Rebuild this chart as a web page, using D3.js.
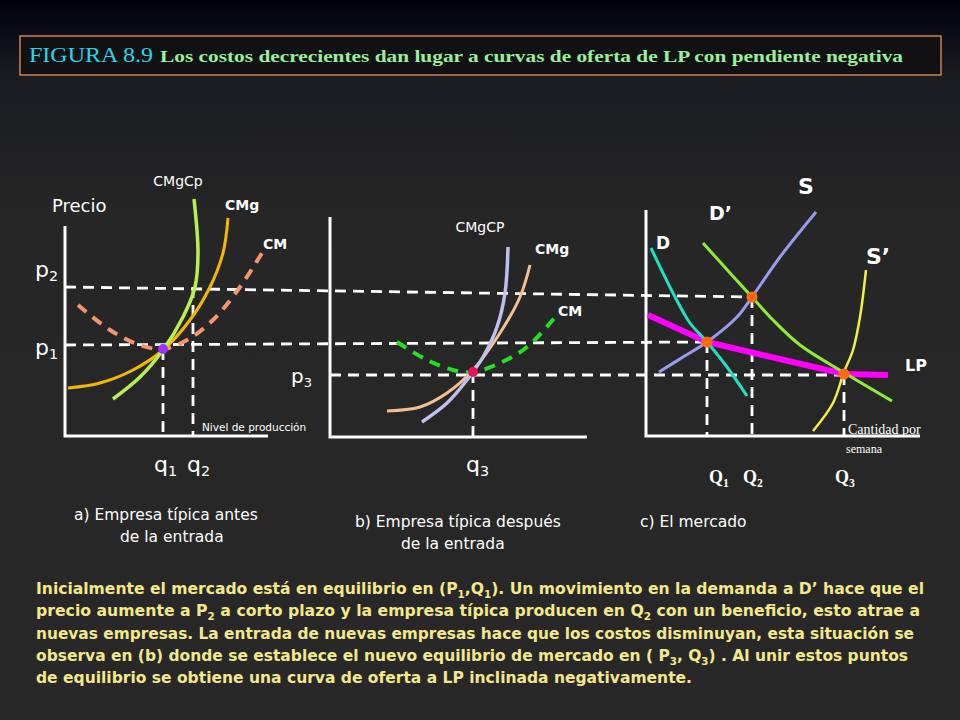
<!DOCTYPE html>
<html><head><meta charset="utf-8">
<script src="https://cdn.jsdelivr.net/npm/d3@7"></script>
<style>body{margin:0;background:#262626}svg{display:block}</style>
</head><body><div id="chart"></div>
<script>
// panel a: empresa antes de la entrada (units = quantity / price offsets)
const aCMgCp = [[48,37],[75,59],[98,86],[118,119],[130,149],[133,183],[129,237]];
const aCMg = [[3,48],[35,53],[68,66],[98,86],[125,116],[145,149],[158,183],[163,218]];
const aCM = [[13,131],[45,106],[75,91],[98,87],[122,96],[148,116],[175,149],[197,183]];
const aPrices = { p1: 91, p2: 149 };
const aQty = { q1: 98, q2: 128 };
const aDot = [98, 87];

// panel b: empresa despues de la entrada
const bCMgCP = [[92,15],[117,34],[137,57],[153,80],[167,110],[175,144],[178,190]];
const bCMg = [[57,26],[90,30],[117,44],[143,67],[170,104],[190,140],[200,172]];
const bCM = [[67,95],[97,77],[123,67],[143,65],[170,74],[197,90],[227,122]];
const bDot = [143, 65];
const bP3 = 62;

// panel c: el mercado
const cD = [[5,188],[27,143],[44,113],[61,94],[81,69],[101,40]];
const cD2 = [[57,193],[84,163],[106,139],[127,116],[154,91],[197,64],[246,35]];
const cS = [[13,64],[37,79],[61,94],[91,119],[106,139],[134,179],[170,224]];
const cS2 = [[167,5],[187,33],[198,64],[207,86],[214,119],[220,166]];
const cLP = [[2,121],[61,94],[198,62],[242,61]];
const cEq = [[61,94],[106,139],[198,62]];

const paragraph = [
  ["Inicialmente el mercado está en equilibrio en (P", "1", ",Q", "1", "). Un movimiento en la demanda a D’ hace que el"],
  ["precio aumente a P", "2", " a corto plazo y la empresa típica producen en Q", "2", " con un beneficio, esto atrae a"],
  ["nuevas empresas. La entrada de nuevas empresas  hace que los costos disminuyan, esta situación se"],
  ["observa en (b) donde se establece el nuevo equilibrio de mercado en ( P", "3", ",  Q", "3", ") . Al unir estos puntos"],
  ["de equilibrio se obtiene una curva de oferta a LP inclinada negativamente."]
];
const paraWidths = [888, 884, 878, 872, 656];

const W = 960, H = 720;
const svg = d3.select("#chart").append("svg").attr("width", W).attr("height", H);
const defs = svg.append("defs");
const g = defs.append("linearGradient").attr("id", "bg").attr("x1", 0).attr("x2", 0).attr("y1", 0).attr("y2", 1);
g.append("stop").attr("offset", "0").attr("stop-color", "#00000f");
g.append("stop").attr("offset", "0.1").attr("stop-color", "#1a1b1f");
g.append("stop").attr("offset", "0.3").attr("stop-color", "#262626");
g.append("stop").attr("offset", "1").attr("stop-color", "#282828");
svg.append("rect").attr("width", W).attr("height", H).attr("fill", "url(#bg)");

// title
svg.append("rect").attr("x", 20).attr("y", 36).attr("width", 921).attr("height", 39)
  .attr("fill", "#111114").attr("stroke", "#e8935a").attr("stroke-width", 1.3);
svg.append("text").attr("x", 29).attr("y", 62).attr("font-family", "Liberation Serif, serif")
  .attr("fill", "#22d8e8").attr("font-size", 20).attr("textLength", 124).attr("lengthAdjust", "spacingAndGlyphs")
  .text("FIGURA 8.9");
svg.append("text").attr("x", 160).attr("y", 62).attr("font-family", "Liberation Serif, serif")
  .attr("fill", "#98f098").attr("font-size", 17).attr("font-weight", "bold")
  .attr("textLength", 743).attr("lengthAdjust", "spacingAndGlyphs")
  .text("Los costos decrecientes dan lugar a curvas de oferta de LP con pendiente negativa");

function panel(ox, oy, xlen, ylen) {
  const x = d3.scaleLinear().domain([0, xlen]).range([ox, ox + xlen]);
  const y = d3.scaleLinear().domain([0, ylen]).range([oy, oy - ylen]);
  svg.append("path").attr("d", `M${x(0)},${y(ylen)}V${y(0)}H${x(xlen)}`)
    .attr("fill", "none").attr("stroke", "#fff").attr("stroke-width", 3);
  return { x, y };
}
const A = panel(65, 436, 203, 210);
const B = panel(330, 437, 257, 220);
const C = panel(646, 436, 274, 226);

const dash = "11,7";
function guide(x1, y1, x2, y2) {
  svg.append("line").attr("x1", x1).attr("y1", y1).attr("x2", x2).attr("y2", y2)
    .attr("stroke", "#fff").attr("stroke-width", 2.8).attr("stroke-dasharray", dash);
}
// horizontal guides across panels
guide(A.x(0), A.y(aPrices.p2), C.x(cEq[1][0]), C.y(cEq[1][1]));
guide(A.x(0), A.y(aPrices.p1), C.x(cEq[0][0]), C.y(cEq[0][1]));
guide(B.x(0), B.y(bP3), C.x(cEq[2][0]), B.y(bP3));
// vertical guides
guide(A.x(aQty.q1), A.y(aDot[1]), A.x(aQty.q1), A.y(0));
guide(A.x(aQty.q2), A.y(aPrices.p2), A.x(aQty.q2), A.y(0));
guide(B.x(bDot[0]), B.y(bDot[1]), B.x(bDot[0]), B.y(0));
cEq.forEach(e => guide(C.x(e[0]), C.y(e[1]), C.x(e[0]), C.y(0)));

function curve(P, pts, color, w, dashed, straight) {
  const line = d3.line().x(d => P.x(d[0])).y(d => P.y(d[1]))
    .curve(straight ? d3.curveLinear : d3.curveCatmullRom);
  const p = svg.append("path").attr("d", line(pts)).attr("fill", "none")
    .attr("stroke", color).attr("stroke-width", w);
  if (dashed) p.attr("stroke-dasharray", "11,8");
}
curve(A, aCM, "#f4956a", 4, true);
curve(A, aCMg, "#f5b800", 3, false);
curve(A, aCMgCp, "#b8f050", 3.5, false);
curve(B, bCM, "#22e022", 4, true);
curve(B, bCMg, "#f5c090", 3, false);
curve(B, bCMgCP, "#c0c0f0", 3.5, false);
curve(C, cLP, "#ff00ff", 6, false, true);
curve(C, cD, "#20e0c0", 3, false);
curve(C, cD2, "#90ee30", 3, false);
curve(C, cS, "#9a9af0", 3, false);
curve(C, cS2, "#f0f040", 2.5, false);

svg.append("circle").attr("cx", A.x(aDot[0])).attr("cy", A.y(aDot[1])).attr("r", 5).attr("fill", "#9b30ff");
svg.append("circle").attr("cx", B.x(bDot[0])).attr("cy", B.y(bDot[1])).attr("r", 5).attr("fill", "#f0105a");
cEq.forEach(e => svg.append("circle").attr("cx", C.x(e[0])).attr("cy", C.y(e[1])).attr("r", 5.5).attr("fill", "#ff6a10"));

function label(x, y, txt, size, opts = {}) {
  const t = svg.append("text").attr("x", x).attr("y", y).attr("fill", opts.fill || "#fff")
    .attr("font-size", size).attr("font-family", opts.family || "DejaVu Sans, sans-serif")
    .attr("font-weight", opts.bold ? "bold" : "normal")
    .attr("text-anchor", opts.anchor || "start");
  if (opts.sub) {
    t.append("tspan").text(txt);
    t.append("tspan").attr("font-size", size * 0.65).attr("dy", 4).text(opts.sub);
  } else t.text(txt);
  return t;
}
label(52, 212, "Precio", 18);
label(178, 186, "CMgCp", 14, { anchor: "middle" });
label(225, 210, "CMg", 14, { bold: true });
label(263, 249, "CM", 14, { bold: true });
label(35, 277, "p", 22, { sub: "2" });
label(35, 355, "p", 22, { sub: "1" });
label(154, 472, "q", 22, { sub: "1" });
label(187, 472, "q", 22, { sub: "2" });
label(202, 431, "Nivel de producción", 10.5);
label(480, 232, "CMgCP", 14, { anchor: "middle" });
label(535, 254, "CMg", 14, { bold: true });
label(558, 316, "CM", 14, { bold: true });
label(291, 383, "p", 20, { sub: "3" });
label(466, 472, "q", 22, { sub: "3" });
label(798, 194, "S", 22, { bold: true });
label(709, 220, "D’", 19, { bold: true });
label(656, 249, "D", 17, { bold: true });
label(866, 264, "S’", 22, { bold: true });
label(905, 371, "LP", 16, { bold: true });
const serif = { family: "Liberation Serif, serif" };
label(848, 434, "Cantidad  por", 14, serif);
label(846, 453, "semana", 12, serif);
label(709, 483, "Q", 18, { bold: true, family: "Liberation Serif, serif", sub: "1" });
label(743, 483, "Q", 18, { bold: true, family: "Liberation Serif, serif", sub: "2" });
label(835, 483, "Q", 18, { bold: true, family: "Liberation Serif, serif", sub: "3" });

label(74, 520, "a) Empresa típica antes", 15.5);
label(120, 542, "de la entrada", 15.5);
label(355, 527, "b) Empresa típica después", 15.5);
label(401, 549, "de la entrada", 15.5);
label(640, 527, "c) El mercado", 15.5);

paragraph.forEach((parts, i) => {
  const t = svg.append("text").attr("x", 36).attr("y", 594 + i * 22.3)
    .attr("fill", "#f4e98a").attr("font-size", 15).attr("font-weight", "bold")
    .attr("font-family", "DejaVu Sans, sans-serif")
    .attr("textLength", paraWidths[i]).attr("lengthAdjust", "spacingAndGlyphs");
  parts.forEach((p, j) => {
    const sp = t.append("tspan").text(p);
    if (j % 2 === 1) sp.attr("font-size", 10).attr("dy", 4);
    else if (j > 0) sp.attr("dy", -4);
  });
});
</script></body></html>
